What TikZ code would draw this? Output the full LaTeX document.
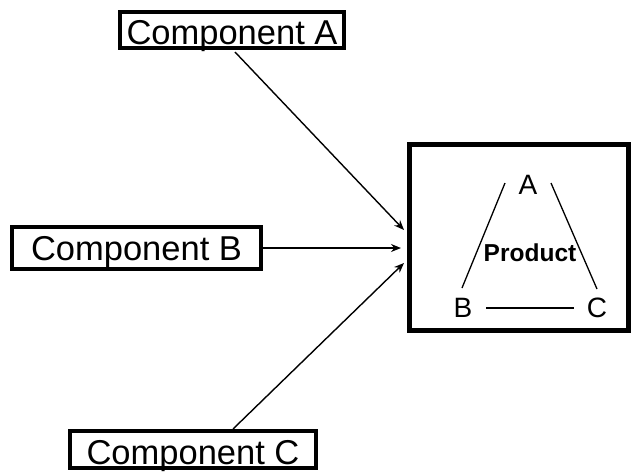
\documentclass[tikz,border=0pt]{standalone}
\usepackage{fontspec}
\setmainfont{Liberation Sans}
\usetikzlibrary{arrows.meta}
\begin{document}
\begin{tikzpicture}[x=1pt,y=-1pt,
  compbox/.style={draw=black,line width=4pt,inner sep=0pt,text depth=0pt,font=\fontsize{34.5}{40}\selectfont},
  arr/.style={line width=1.4pt,-{Stealth[length=10pt,width=8pt]}},
  thin/.style={line width=1.3pt},
  letter/.style={inner sep=0pt,font=\fontsize{28}{30}\selectfont}]
\useasboundingbox (0,0) rectangle (633,475);
\fill[white] (0,0) rectangle (633,475);
\node[compbox,minimum width=224pt,minimum height=36pt,text height=29pt] (A) at (232,30) {Component A};
\node[compbox,minimum width=249pt,minimum height=42pt,text height=25pt] (B) at (136.5,248) {Component B};
\node[compbox,minimum width=246pt,minimum height=37pt,text height=29pt] (C) at (193,449.5) {Component C};
\node[draw=black,line width=5pt,minimum width=219pt,minimum height=186pt,inner sep=0pt] (P) at (519,237.5) {};
\coordinate (pa) at (404,230);
\coordinate (pb) at (401,248);
\coordinate (pc) at (404,263);
\coordinate (as) at (235,52);
\coordinate (cn) at (233,429);
\draw[arr] (as) -- (pa);
\draw[arr] (B.east) -- (pb);
\draw[arr] (cn) -- (pc);
\node[letter] (la) at (528,185) {A};
\node[letter] (lb) at (463,308) {B};
\node[letter] (lc) at (597,308) {C};
\node[inner sep=0pt,font=\bfseries\fontsize{24.5}{26}\selectfont] (prod) at (530,253) {Product};
\coordinate (l1) at (505,183);
\coordinate (l2) at (462,288);
\coordinate (r1) at (551,183);
\coordinate (r2) at (597,289);
\coordinate (b1) at (486,308);
\coordinate (b2) at (574,308);
\draw[thin] (l1) -- (l2);
\draw[thin] (r1) -- (r2);
\draw[thin] (b1) -- (b2);
\end{tikzpicture}
\end{document}
